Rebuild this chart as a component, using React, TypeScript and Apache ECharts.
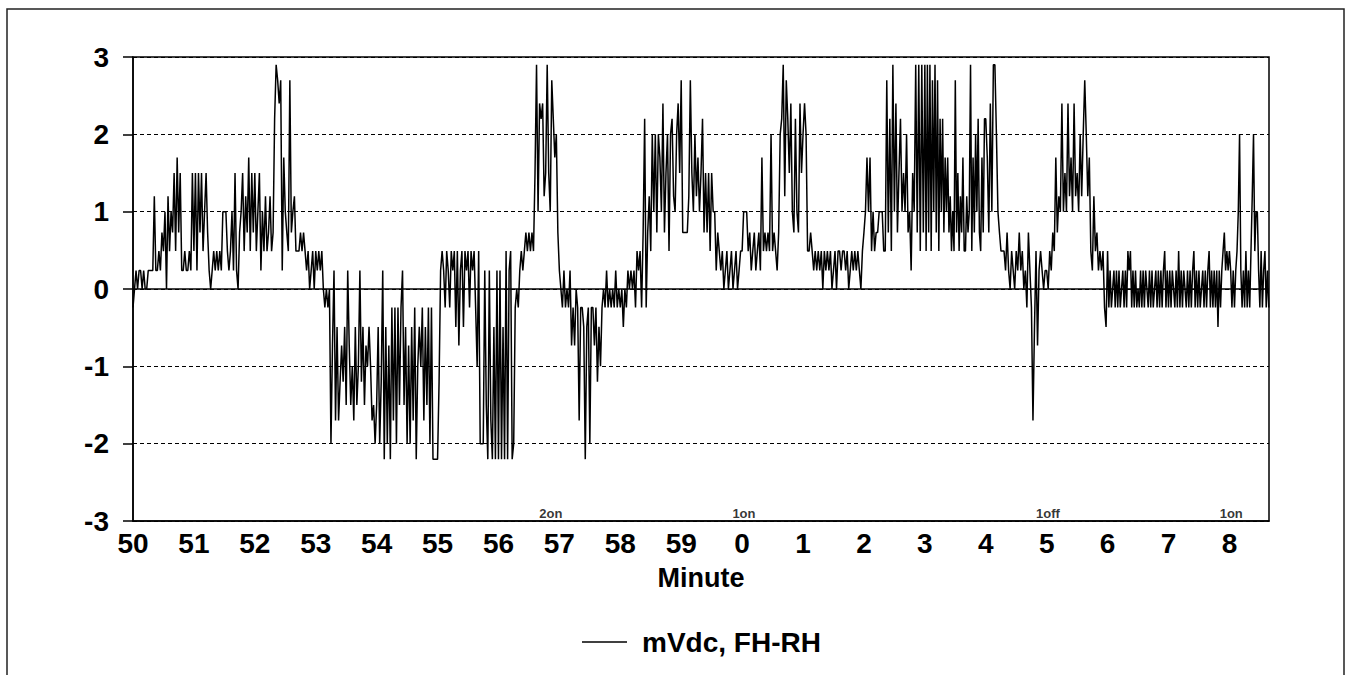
import React, { useEffect, useRef } from "react";
import * as echarts from "echarts";

const m50 = [-0.24, 0, 0.24, 0, 0.24, 0.24, 0, 0.24, 0, 0, 0.24, 0.24, 0.24, 0.24, 1.2, 0.24, 0.24, 0.49, 0.24, 0.73, 0.49, 1, 0, 1.2, 0.49, 1, 0.73, 1.5, 0.49, 1.7, 0.73, 1.5, 0.24, 0.24, 0.49, 0.24, 0.24, 0.49, 0.24, 1.5];
const m51 = [0.49, 1.5, 0.24, 1.5, 0.73, 1.5, 0.49, 1, 1.5, 0.73, 0.24, 0, 0.24, 0.49, 0.24, 0.49, 0.24, 0.49, 0.24, 1, 1, 1, 0.49, 0.24, 0.49, 1, 0.24, 1.5, 0.24, 0, 0.73, 1, 1.5, 0.49, 1.2, 0.73, 1.7, 0.49, 1.5, 0.73];
const m52 = [1.5, 0.49, 1, 1.5, 0.24, 1, 0.49, 1.2, 0.49, 0.73, 1.2, 0.49, 0.73, 2.2, 2.9, 2.7, 2.4, 2.7, 0.24, 1.7, 1, 0.73, 0.49, 2.7, 0.73, 1, 1.2, 0.49, 0.49, 0.49, 0.73, 0.49, 0.73, 0.49, 0.24, 0.49, 0, 0.24, 0.49, 0];
const m53 = [0.49, 0.24, 0.49, 0.24, 0.49, 0, -0.24, 0, -0.24, 0, -2, -0.73, 0.24, -1.7, -0.49, -1.7, -1.2, -0.73, -1.2, -0.49, -1.5, 0.24, -0.73, -1.5, -1, -1.7, -0.49, -1.5, -1, 0.24, -1.2, -0.49, -1.5, -0.73, -1, -0.49, -1, -1.7, -1.5, -2];
const m54 = [-1.5, -0.49, -2, -1.2, 0.24, -2.2, -0.49, -2, -0.73, -2.2, -0.24, -1.7, -0.24, -2, -0.24, -1.5, -0.24, 0.24, -1.5, -0.49, -2, -0.73, -2, -0.49, -1.7, -0.24, -2.2, -1, -0.49, -1, -0.24, -1.7, -0.49, -1.5, -0.24, -2, -0.24, -2.2, -2.2, -2.2];
const m55 = [-2.2, -1.2, 0.24, 0.49, 0.24, -0.24, 0.49, 0.24, -0.24, 0.49, 0.24, 0.49, -0.49, 0.49, -0.73, 0.24, 0.49, -0.49, 0.49, 0.24, 0.49, -0.24, 0.49, 0.24, 0.49, -0.24, -1, 0.49, -2, -2, -2, 0.24, -1.5, -2.2, 0.24, -1.7, -2.2, -0.49, -2.2, 0.24];
const m56 = [-2.2, 0.24, -2.2, -0.49, -2.2, 0.49, -2.2, 0.24, 0.49, -2.2, -2, -0.24, 0, -0.24, 0.24, 0.49, 0.24, 0.49, 0.73, 0.49, 0.73, 0.49, 0.73, 0.49, 1.5, 2.9, 1, 2.4, 2.2, 2.4, 1.2, 1.5, 2.9, 1.5, 1, 2.7, 2.2, 1.7, 2, 0.73];
const m57 = [0.24, 0, -0.24, 0.24, -0.24, 0, -0.24, 0.24, -0.73, -0.24, -0.73, 0, -0.24, -1.7, -0.24, -0.24, -0.49, -2.2, -0.49, -0.24, -2, -0.24, -0.24, -0.73, -0.24, -1.2, -0.49, -1, -0.24, 0, -0.24, 0.24, -0.24, 0, -0.24, 0, -0.24, 0.24, -0.24, 0];
const m58 = [-0.24, 0, -0.49, 0, -0.24, 0.24, 0, 0.24, 0, 0.24, -0.24, 0.49, 0.24, 0.49, -0.24, 0.73, 2.2, -0.24, 0.73, 1.2, 0.49, 2, 1, 2, 0.73, 2, 1.7, 1, 2.4, 0.73, 1.5, 2, 0.49, 2, 2.2, 1.2, 1, 2, 2.4, 1.5];
const m59 = [2.7, 0.73, 0.73, 0.73, 0.73, 1.2, 2.7, 1.5, 1, 2, 1.2, 1.7, 1, 1.5, 2.2, 0.73, 1.5, 0.73, 1.5, 0.49, 1.5, 1, 1, 0.24, 0.73, 0.49, 0.24, 0.49, 0, 0.24, 0.49, 0, 0.24, 0.49, 0, 0.24, 0.49, 0, 0.24, 0.49];
const m00 = [0.49, 1, 1, 1, 0.49, 0.73, 0.24, 0.49, 0.73, 0.24, 0.49, 0.73, 0.24, 1.7, 0.49, 0.73, 0.49, 0.73, 0.49, 2, 0.49, 0.73, 0.49, 0.24, 0.73, 2, 2.2, 2.9, 1.2, 2.7, 2.2, 1.5, 2.4, 1, 0.73, 2.2, 1, 0.73, 2.4, 1.5];
const m01 = [2, 2.4, 2, 0.49, 0.49, 0.73, 0.49, 0.24, 0.49, 0.24, 0.49, 0.24, 0.49, 0, 0.49, 0.24, 0.49, 0.24, 0.49, 0, 0.24, 0.49, 0, 0.49, 0.49, 0.24, 0.49, 0.49, 0.24, 0.49, 0, 0.24, 0.49, 0.24, 0.49, 0.24, 0.49, 0.24, 0, 0.49];
const m02 = [0.73, 1, 1.7, 1, 1.7, 0.49, 1, 0.49, 0.73, 0.73, 1, 1, 1, 0.49, 0.49, 2.7, 0.73, 2.2, 0.49, 2.9, 1, 2.4, 0.73, 1.5, 2.2, 1, 1.5, 1, 2, 0.73, 1, 0.24, 1.5, 1, 2.9, 0.73, 2.9, 0.49, 2.9, 0.73];
const m03 = [2.9, 0.49, 2.9, 0.73, 2.9, 0.49, 2.7, 1, 2.9, 0.73, 2.7, 0.49, 2.2, 1, 2.2, 0.73, 1.7, 1, 1.7, 0.73, 1.2, 0.49, 1, 0.49, 2.7, 0.73, 1.5, 0.49, 1.2, 0.73, 1.7, 0.49, 0.49, 1.2, 0.73, 1, 2.9, 0.49, 1.7, 0.73, 2, 1, 2.2, 0.73, 0.49, 1.7, 0.73, 2.2];
const m04 = [2.2, 1.7, 0.73, 2.4, 1, 2.9, 2.9, 2, 1, 0.73, 0.49, 0.49, 0.49, 0.24, 0.73, 0.24, 0, 0.49, 0.24, 0, 0.49, 0.24, 0.73, 0.24, 0.49, 0, 0.24, -0.24, 0.73, 0.24, -0.24, -1.7, -0.49, 0.49, -0.73, 0.24, 0.49, 0.24, 0, 0.24];
const m05 = [0.24, 0, 0.49, 0.24, 0.73, 0.49, 1.7, 0.73, 1.2, 1, 2.4, 1, 1.5, 1, 2.4, 1.2, 1.7, 1, 2.4, 1.2, 1.5, 1, 2, 1.2, 2, 2.7, 2, 1.2, 1.7, 0.49, 0.24, 1.2, 0.49, 0.73, 0.24, 0.49, 0.24, 0.49, -0.24, -0.49];
const m06 = [0.49, -0.24, 0.24, -0.24, 0, 0.24, -0.24, 0.24, -0.24, 0.24, -0.24, 0, 0.24, -0.24, 0.24, -0.24, 0.49, 0.24, 0.49, -0.24, 0.24, -0.24, 0.24, -0.24, 0, -0.24, 0.24, -0.24, 0.24, -0.24, 0.24, 0, -0.24, 0.24, -0.24, 0.24, -0.24, 0, 0.24, -0.24, 0.24, -0.24, 0.24, -0.24, 0.24, 0.49, -0.24, 0.24];
const m07 = [-0.24, 0.24, -0.24, 0.24, 0, -0.24, 0.24, -0.24, 0.49, -0.24, 0.24, -0.24, 0.24, 0, -0.24, 0.24, -0.24, 0.24, -0.24, 0.24, 0.49, -0.24, 0.24, -0.24, 0.24, -0.24, 0, 0.24, -0.24, 0.24, -0.24, 0.24, 0.49, -0.24, 0.24, -0.24, 0.24, -0.24, 0.24, -0.49, 0.24, -0.24, 0.24, 0.49, 0.73, 0.24, 0.49, 0.24];
const m08 = [0.49, 0.24, -0.24, 0.24, -0.24, 0.24, 0.49, 1, 2, 0.24, -0.24, 0.24, -0.24, 0.49, -0.24, 0.24, -0.24, 0.49, 1.2, 2, 0.49, 1, 1, 0.24, -0.24, 0.49, -0.24, 0.24, 0.49, -0.24, 0.24, -0.24];

// Continuous minute at which each block starts (60 = minute 0 of next hour)
const blockStarts = [50, 51, 52, 53, 54, 55, 56, 57, 58, 59, 60, 61, 62, 63, 64, 65, 66, 67, 68];
const blocks = [m50, m51, m52, m53, m54, m55, m56, m57, m58, m59, m00, m01, m02, m03, m04, m05, m06, m07, m08];
const PARTIAL_SAMPLES_PER_MINUTE = 48;

// Event annotations
const annotationTimes = [56.86, 60.03, 65.02, 68.03];
const annotationLabels = ["2on", "1on", "1off", "1on"];

const seriesName = "mVdc, FH-RH";
const xMin = 50;
const xMax = 68.65;
const yTicks = { min: -3, max: 3, interval: 1 };

const FONT = '"Liberation Sans", Arial, Helvetica, sans-serif';

export default function App() {
  const ref = useRef<HTMLDivElement>(null);

  useEffect(() => {
    if (!ref.current) return;
    const chart = echarts.init(ref.current, null, { renderer: "svg" });

    const points: number[][] = [];
    blocks.forEach((vals, idx) => {
      const isLast = idx === blocks.length - 1;
      const n = isLast ? PARTIAL_SAMPLES_PER_MINUTE : vals.length;
      vals.forEach((v, i) => points.push([blockStarts[idx] + i / n, v]));
    });

    const annData = annotationTimes.map((t, i) => ({
      value: [t, -2.9],
      name: annotationLabels[i],
    }));

    chart.setOption({
      animation: false,
      backgroundColor: "#fff",
      grid: {
        left: 133,
        top: 57,
        right: 84,
        bottom: 154,
        show: true,
        borderColor: "#000",
        borderWidth: 1.5,
        containLabel: false,
      },
      xAxis: {
        type: "value",
        min: xMin,
        max: xMax,
        interval: 1,
        name: "Minute",
        nameLocation: "middle",
        nameGap: 43,
        nameTextStyle: { fontFamily: FONT, fontWeight: "bold", fontSize: 27, color: "#000" },
        axisLine: { show: true, onZero: false, lineStyle: { color: "#000", width: 1.5 } },
        axisTick: { show: false },
        splitLine: { show: false },
        axisLabel: {
          margin: 8,
          showMaxLabel: false,
          fontFamily: FONT,
          fontWeight: "bold",
          fontSize: 28,
          color: "#000",
          formatter: (v: number) => (Math.abs(v - Math.round(v)) < 1e-6 ? String(Math.round(v) % 60) : ""),
        },
      },
      yAxis: {
        type: "value",
        min: yTicks.min,
        max: yTicks.max,
        interval: yTicks.interval,
        axisLine: { show: true, lineStyle: { color: "#000", width: 1.5 } },
        axisTick: { show: true, length: 10, inside: false, lineStyle: { color: "#000", width: 1.5 } },
        splitLine: { show: true, lineStyle: { color: "#000", type: [4, 3], width: 1 } },
        axisLabel: {
          margin: 24,
          fontFamily: FONT,
          fontWeight: "bold",
          fontSize: 28,
          color: "#000",
        },
      },
      legend: {
        data: [{ name: seriesName, icon: "rect" }],
        left: 582,
        top: 628,
        padding: 0,
        itemWidth: 45,
        itemHeight: 1.5,
        itemStyle: { color: "#000" },
        textStyle: {
          fontFamily: FONT,
          fontWeight: "bold",
          fontSize: 28,
          color: "#000",
          padding: [0, 0, 0, 10],
        },
      },
      graphic: [
        {
          type: "rect",
          shape: { x: 7, y: 9, width: 1337, height: 720 },
          style: { fill: "none", stroke: "#222", lineWidth: 1.5 },
          silent: true,
          z: -10,
        },
      ],
      series: [
        {
          name: seriesName,
          type: "line",
          data: points,
          symbol: "none",
          showSymbol: false,
          clip: true,
          lineStyle: { color: "#000", width: 1.5 },
          itemStyle: { color: "#000" },
          z: 3,
          markLine: {
            silent: true,
            symbol: "none",
            label: { show: false },
            lineStyle: { color: "#000", type: "solid", width: 1.5 },
            data: [{ yAxis: 0 }],
          },
        },
        {
          name: "annotations",
          type: "scatter",
          data: annData,
          symbolSize: 0,
          silent: true,
          label: {
            show: true,
            position: "inside",
            formatter: "{b}",
            fontFamily: FONT,
            fontWeight: "bold",
            fontSize: 13,
            color: "#000",
          },
          z: 4,
        },
      ],
    });

    return () => chart.dispose();
  }, []);

  return (
    <div
      ref={ref}
      style={{ position: "absolute", left: 0, top: 0, width: 1353, height: 675, background: "#fff" }}
    />
  );
}
